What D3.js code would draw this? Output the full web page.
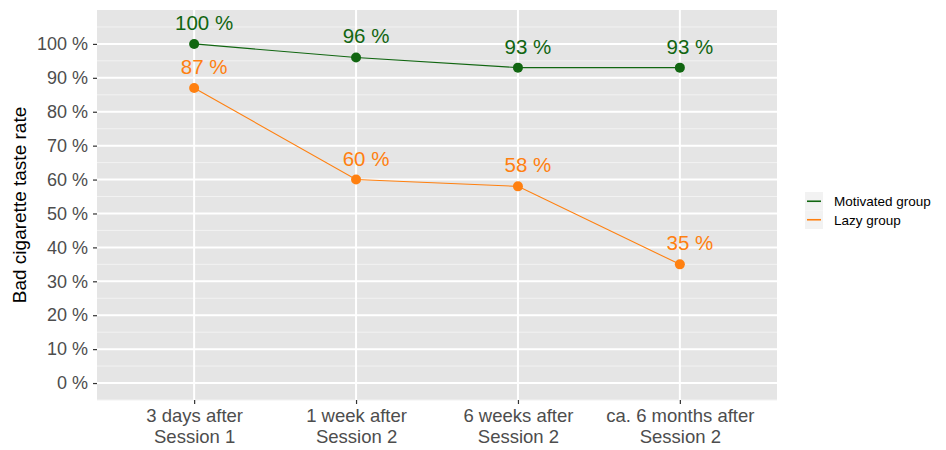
<!DOCTYPE html>
<html><head><meta charset="utf-8">
<script src="https://cdn.jsdelivr.net/npm/d3@7"></script>
<style>body{margin:0;background:#fff;} svg{font-family:"Liberation Sans",Arial,Helvetica,sans-serif;}</style>
</head><body>
<svg id="c" width="946" height="450"></svg>
<script>
const categories = ["3 days after\nSession 1","1 week after\nSession 2","6 weeks after\nSession 2","ca. 6 months after\nSession 2"];
const motivated = [100, 96, 93, 93];
const lazy = [87, 60, 58, 35];
const seriesNames = ["Motivated group","Lazy group"];
const seriesColors = ["#116611","#FF8010"];
const yTicks = [0,10,20,30,40,50,60,70,80,90,100];
const yMinor = [-5,5,15,25,35,45,55,65,75,85,95,105];

const svg = d3.select("#c");
const L=97, R=777, T=10, B=400;
const x = d3.scalePoint().domain(categories).range([L,R]).padding(0.6);
const y = d3.scaleLinear().domain([-5,110]).range([B,T]);

svg.append("rect").attr("x",L).attr("y",T).attr("width",R-L).attr("height",B-T).attr("fill","#e5e5e5");
const g = svg.append("g");
g.selectAll(".mn").data(yMinor).join("line").attr("x1",L).attr("x2",R).attr("y1",d=>y(d)).attr("y2",d=>y(d)).attr("stroke","#f2f2f2").attr("stroke-width",1);
g.selectAll(".mj").data(yTicks).join("line").attr("x1",L).attr("x2",R).attr("y1",d=>y(d)).attr("y2",d=>y(d)).attr("stroke","#fff").attr("stroke-width",2);
g.selectAll(".vx").data(categories).join("line").attr("y1",T).attr("y2",B).attr("x1",d=>x(d)).attr("x2",d=>x(d)).attr("stroke","#fff").attr("stroke-width",2);

// y axis
const ya = svg.append("g").attr("transform",`translate(${L},0)`).call(d3.axisLeft(y).tickValues(yTicks).tickSize(4).tickPadding(5).tickFormat(d=>d+" %"));
ya.select(".domain").remove();
ya.selectAll(".tick line").attr("stroke","#333").attr("stroke-width",1.2);
ya.selectAll(".tick text").attr("fill","#4d4d4d").style("font-size","18px").attr("font-family",null);

// x axis
const xa = svg.append("g").attr("transform",`translate(0,${B})`).call(d3.axisBottom(x).tickSize(4).tickFormat(""));
xa.select(".domain").remove();
xa.selectAll(".tick line").attr("stroke","#333").attr("stroke-width",1.2);
xa.selectAll(".tick").each(function(d){
  const lines = d.split("\n");
  const t = d3.select(this).append("text").attr("fill","#4d4d4d").attr("text-anchor","middle").style("font-size","18.5px");
  lines.forEach((s,i)=>t.append("tspan").attr("x",0).attr("y",22+i*21).text(s));
});

// y title
svg.append("text").attr("transform",`translate(26,${(T+B)/2}) rotate(-90)`).attr("text-anchor","middle").style("font-size","19px").attr("fill","#000").text("Bad cigarette taste rate");

// series
const series = [motivated, lazy];
series.forEach((vals,si)=>{
  const pts = vals.map((v,i)=>[x(categories[i]), y(v), v]);
  svg.append("path").attr("d",d3.line()(pts.map(p=>[p[0],p[1]]))).attr("fill","none").attr("stroke",seriesColors[si]).attr("stroke-width",1.1);
  svg.selectAll(null).data(pts).join("circle").attr("cx",d=>d[0]).attr("cy",d=>d[1]).attr("r",5).attr("fill",seriesColors[si]);
  svg.selectAll(null).data(pts).join("text").attr("x",d=>d[0]+10).attr("y",d=>d[1]-14).attr("text-anchor","middle").attr("fill",seriesColors[si]).style("font-size","20.5px").text(d=>d[2]+" %");
});

// legend
const lg = svg.append("g").attr("transform","translate(805,192)");
seriesNames.forEach((n,i)=>{
  lg.append("rect").attr("x",0).attr("y",i*18.5).attr("width",18).attr("height",18.5).attr("fill","#f2f2f2");
  lg.append("line").attr("x1",2).attr("x2",16).attr("y1",i*18.5+9.25).attr("y2",i*18.5+9.25).attr("stroke",seriesColors[i]).attr("stroke-width",1.6);
  lg.append("text").attr("x",29).attr("y",i*18.5+14).style("font-size","13.5px").attr("fill","#000").text(n);
});
</script>
</body></html>
